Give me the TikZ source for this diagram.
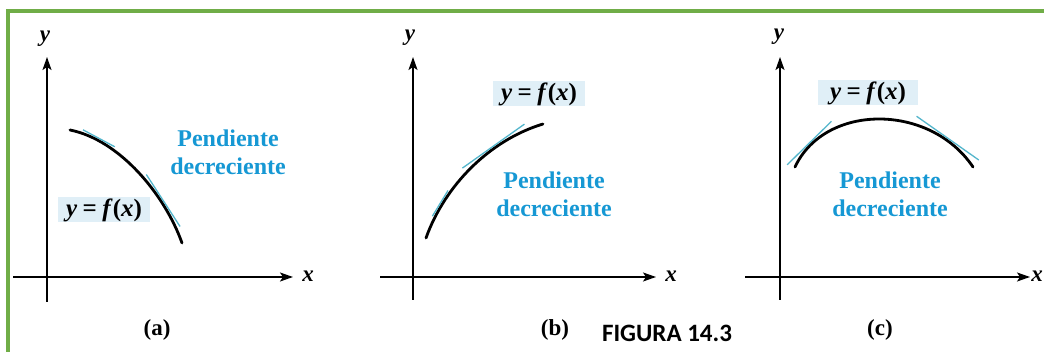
\documentclass[tikz,border=0pt]{standalone}
\usepackage{fontspec}
\setmainfont{Liberation Serif}
\newfontfamily\figfont{Carlito}
\usetikzlibrary{arrows.meta,decorations.markings}
\definecolor{slopetext}{RGB}{22,152,212}
\definecolor{boxfill}{RGB}{224,239,247}
\definecolor{tangcol}{RGB}{84,182,204}
\definecolor{framegreen}{RGB}{112,173,71}
\newcommand{\yfxlabel}{\bfseries\itshape y\/\hspace{0.22em}\upshape=\hspace{0.22em}\itshape f\/\upshape(\itshape x\/\upshape)}
\tikzset{
  axis/.style={line width=1.8pt,-{Stealth[length=13pt,width=9pt,inset=3pt]}},
  curveline/.style={line width=2.8pt,line cap=round},
  tangline/.style={tangcol,line width=1.3pt},
  slopelbl/.style={text=slopetext,font=\fontsize{24}{28}\selectfont\bfseries,align=center,inner sep=0pt},
  fxbox/.style={fill=boxfill,font=\fontsize{25}{26}\selectfont,inner sep=0pt,minimum width=92pt,minimum height=25pt},
  axlbl/.style={font=\fontsize{23}{23}\selectfont\bfseries\itshape,inner sep=0pt},
  sublbl/.style={font=\fontsize{23}{23}\selectfont\bfseries,inner sep=0pt},
  figlbl/.style={font=\fontsize{25}{25}\selectfont\figfont\bfseries,inner sep=0pt},
  tangat/.style n args={3}{postaction={decorate,decoration={markings,
     mark=at position #1 with {\draw[tangline] (-#2pt/2,#3pt)--(#2pt/2,#3pt);}}}},
}
\begin{document}
\begin{tikzpicture}[x=1pt,y=-1pt]
\useasboundingbox (0,0) rectangle (1044,352);
\fill[white] (0,0) rectangle (1044,352);
\begin{scope}
\clip (0,0) rectangle (1044,352);
% frame
\draw[framegreen,line width=4pt] (1050,11) -- (8,11) -- (8,360);

% ---------- panel (a)
\coordinate (ay0) at (47,302); \coordinate (ay1) at (47,57);
\coordinate (ax0) at (13,277); \coordinate (ax1) at (293,277);
\draw[axis] (ay0) -- (ay1);
\draw[axis] (ax0) -- (ax1);
\node[axlbl] (aylab) at (45,39) {y};
\node[axlbl] (axlab) at (308,276) {x};
\coordinate (as) at (70,130); \coordinate (ae) at (182,243);
\draw[curveline] (as) .. controls (120,140) and (165,195) .. (ae);
\path[tangat={0.18}{36}{2.2},tangat={0.72}{62}{2.2}] (as) .. controls (120,140) and (165,195) .. (ae);
\node[slopelbl] (aslope) at (228,152) {Pendiente\\decreciente};
\node[fxbox] (afx) at (104,210) {\yfxlabel};
\node[sublbl] (acap) at (157,330) {(a)};

% ---------- panel (b)
\coordinate (by0) at (413,300); \coordinate (by1) at (413,57);
\coordinate (bx0) at (380,277); \coordinate (bx1) at (656,277);
\draw[axis] (by0) -- (by1);
\draw[axis] (bx0) -- (bx1);
\node[axlbl] (bylab) at (410,38) {y};
\node[axlbl] (bxlab) at (671,276) {x};
\coordinate (bs) at (426,238); \coordinate (be) at (543,124);
\draw[curveline] (bs) .. controls (445,185) and (490,140) .. (be);
\path[tangat={0.22}{30}{2.2},tangat={0.68}{76}{2.2}] (bs) .. controls (445,185) and (490,140) .. (be);
\node[fxbox] (bfx) at (539,94) {\yfxlabel};
\node[slopelbl] (bslope) at (554,194) {Pendiente\\decreciente};
\node[sublbl] (bcap) at (555,330) {(b)};

% ---------- panel (c)
\coordinate (cy0) at (780,300); \coordinate (cy1) at (780,57);
\coordinate (cx0) at (745,277); \coordinate (cx1) at (1030,277);
\draw[axis] (cy0) -- (cy1);
\draw[axis] (cx0) -- (cx1);
\node[axlbl] (cylab) at (779,37) {y};
\node[axlbl] (cxlab) at (1037,276) {x};
\coordinate (cs) at (795,167); \coordinate (ce) at (973,167);
\draw[curveline] (cs) .. controls (825,103) and (930,103) .. (ce);
\path[tangat={0.13}{62}{2.2},tangat={0.82}{76}{2.2}] (cs) .. controls (825,103) and (930,103) .. (ce);
\node[fxbox,minimum width=100pt] (cfx) at (868,93) {\yfxlabel};
\node[slopelbl] (cslope) at (890,194) {Pendiente\\decreciente};
\node[sublbl] (ccap) at (880,330) {(c)};

\node[figlbl] (fig) at (667,333) {FIGURA 14.3};
\end{scope}
\end{tikzpicture}
\end{document}
